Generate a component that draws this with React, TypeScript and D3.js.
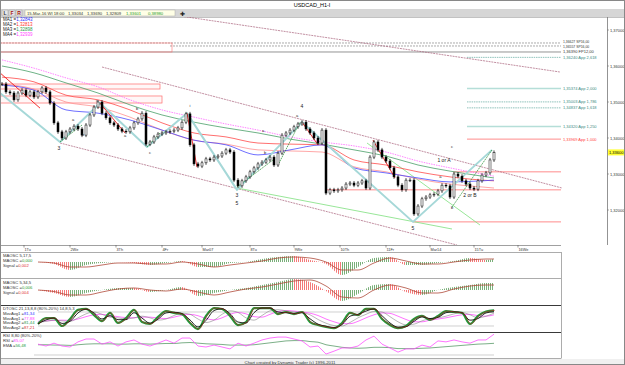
import React, { useEffect, useRef } from 'react';
import * as d3 from 'd3';

// closes, one bar every ~2 hours
const closes = [
  1.3550, 1.3528, 1.3525, 1.3506, 1.3525, 1.3533, 1.3519, 1.3528, 1.3514, 1.3528,
  1.3539, 1.3528, 1.3497, 1.3442, 1.3417, 1.3400, 1.3417, 1.3425, 1.3433, 1.3425,
  1.3408, 1.3436, 1.3464, 1.3486, 1.3500, 1.3469, 1.3456, 1.3442, 1.3436, 1.3425,
  1.3419, 1.3417, 1.3428, 1.3442, 1.3453, 1.3469, 1.3383, 1.3389, 1.3403, 1.3411,
  1.3414, 1.3417, 1.3419, 1.3422, 1.3428, 1.3444, 1.3467, 1.3381, 1.3328, 1.3322,
  1.3331, 1.3342, 1.3339, 1.3347, 1.3350, 1.3358, 1.3367, 1.3361, 1.3283, 1.3267,
  1.3281, 1.3292, 1.3306, 1.3317, 1.3328, 1.3333, 1.3339, 1.3347, 1.3325, 1.3358,
  1.3408, 1.3414, 1.3422, 1.3431, 1.3439, 1.3444, 1.3425, 1.3414, 1.3400, 1.3386,
  1.3422, 1.3247, 1.3256, 1.3253, 1.3256, 1.3261, 1.3272, 1.3275, 1.3269, 1.3275,
  1.3281, 1.3261, 1.3347, 1.3389, 1.3367, 1.3347, 1.3336, 1.3317, 1.3292, 1.3269,
  1.3256, 1.3283, 1.3283, 1.3189, 1.3211, 1.3231, 1.3236, 1.3242, 1.3244, 1.3253,
  1.3269, 1.3267, 1.3236, 1.3300, 1.3294, 1.3281, 1.3272, 1.3261, 1.3258, 1.3281,
  1.3297, 1.3303, 1.3339, 1.3360
];

// moving averages, read at these bars
const maIdx = [0, 8, 16, 24, 32, 40, 48, 56, 64, 72, 80, 88, 96, 104, 112, 120, 123];
const ma1 = [1.3547, 1.3533, 1.3478, 1.3469, 1.3450, 1.3422, 1.3394, 1.3381, 1.3353, 1.3367, 1.3381, 1.3317, 1.3303, 1.3289, 1.3278, 1.3281, 1.3283];
const ma2 = [1.3569, 1.3556, 1.3519, 1.3506, 1.3478, 1.3442, 1.3414, 1.3403, 1.3386, 1.3383, 1.3381, 1.3339, 1.3325, 1.3306, 1.3292, 1.3283, 1.3281];
const ma2b = [1.3550, 1.3536, 1.3500, 1.3486, 1.3458, 1.3422, 1.3394, 1.3383, 1.3367, 1.3364, 1.3361, 1.3320, 1.3306, 1.3286, 1.3272, 1.3264, 1.3261];
const ma3 = [1.3600, 1.3581, 1.3553, 1.3525, 1.3492, 1.3464, 1.3444, 1.3428, 1.3414, 1.3397, 1.3383, 1.3367, 1.3350, 1.3325, 1.3308, 1.3294, 1.3289];
const ma4 = [1.3617, 1.3594, 1.3567, 1.3542, 1.3506, 1.3478, 1.3458, 1.3439, 1.3422, 1.3403, 1.3389, 1.3378, 1.3361, 1.3336, 1.3317, 1.3300, 1.3294];

// MAOSC panels
const oscIdx = [9, 13, 17, 21, 25, 29, 33, 37, 41, 45, 49, 53, 57, 61, 65, 69, 73, 77, 81, 85, 89, 93, 97, 101, 105, 109, 113, 117, 121, 123];
const macd1 = [0, -0.0008, -0.0032, -0.0012, -0.0004, 0, -0.0004, -0.0012, -0.0004, 0.0004, -0.0020, -0.0020, -0.0004, 0, 0.0012, 0.0020, 0.0024, 0.0008, -0.0008, -0.0052, -0.0020, 0.0016, 0.0020, -0.0012, -0.0012, -0.0004, 0.0004, 0.0016, 0.0008, 0.0012];
const signal1 = [0, -0.0004, -0.0020, -0.0020, -0.0012, -0.0004, -0.0004, -0.0008, -0.0008, 0, -0.0008, -0.0020, -0.0012, -0.0004, 0.0004, 0.0016, 0.0020, 0.0016, 0, -0.0032, -0.0032, -0.0004, 0.0016, 0.0004, -0.0008, -0.0008, 0, 0.0008, 0.0012, 0.0012];
const macd2 = [0, -0.0024, -0.0056, -0.0024, 0, 0.0016, 0.0016, -0.0016, 0, 0.0024, -0.0048, -0.0024, 0, 0.0016, 0.0040, 0.0064, 0.0088, 0.0064, -0.0008, -0.0088, -0.0032, 0.0040, 0.0048, -0.0016, -0.0040, 0, 0.0024, 0.0040, 0.0056, 0.0056];
const signal2 = [0, -0.0012, -0.0040, -0.0040, -0.0016, 0.0008, 0.0016, 0, -0.0008, 0.0008, -0.0016, -0.0040, -0.0016, 0.0008, 0.0024, 0.0048, 0.0072, 0.0080, 0.0032, -0.0056, -0.0064, 0, 0.0040, 0.0016, -0.0024, -0.0024, 0.0008, 0.0032, 0.0040, 0.0040];

// DTOSC + RSI panels (every other bar from bar 9)
const stoIdx = d3.range(9, 124, 2);
const stoFast = [29, 54, 54, 20, 50, 89, 93, 67, 41, 76, 33, 54, 89, 37, 29, 59, 84, 76, 71, 33, 7, 63, 97, 93, 63, 24, 37, 97, 97, 97, 71, 80, 71, 80, 37, 24, 16, 11, 33, 76, 67, 93, 93, 50, 24, 11, 20, 50, 63, 46, 63, 84, 80, 76, 29, 63, 82, 87];
const stoSlow = [29, 46, 54, 31, 40, 76, 92, 76, 50, 64, 47, 47, 77, 54, 32, 49, 76, 79, 73, 46, 16, 44, 86, 94, 73, 37, 33, 77, 97, 97, 80, 77, 74, 77, 51, 28, 19, 13, 26, 62, 70, 84, 93, 64, 33, 15, 17, 40, 59, 52, 57, 77, 81, 77, 45, 52, 76, 81];
const stoAvg1 = [35, 40, 45, 42, 40, 55, 72, 80, 70, 58, 55, 50, 55, 62, 55, 45, 50, 65, 75, 70, 50, 35, 45, 70, 85, 78, 55, 45, 65, 85, 90, 85, 80, 78, 68, 48, 32, 22, 20, 35, 55, 70, 82, 80, 60, 38, 25, 28, 42, 52, 55, 62, 72, 78, 68, 55, 62, 75];
const stoAvg2 = [40, 42, 44, 45, 44, 50, 60, 68, 70, 65, 60, 56, 55, 58, 58, 54, 52, 58, 66, 70, 64, 52, 46, 55, 70, 78, 72, 60, 58, 70, 82, 86, 84, 80, 75, 65, 50, 38, 30, 30, 40, 55, 68, 76, 74, 62, 48, 38, 38, 45, 50, 55, 62, 68, 70, 64, 62, 68];
const rsi = [54, 48, 57, 48, 45, 61, 70, 70, 54, 61, 48, 61, 67, 54, 48, 57, 67, 57, 73, 73, 48, 45, 51, 45, 39, 57, 48, 57, 67, 73, 76, 76, 70, 64, 45, 48, 23, 32, 42, 42, 48, 67, 79, 54, 42, 29, 39, 39, 51, 45, 64, 61, 67, 61, 57, 67, 67, 85];
const rsiEma = [52, 52, 51, 51, 50, 52, 54, 55, 55, 55, 54, 54, 55, 55, 54, 55, 56, 56, 58, 59, 57, 55, 54, 53, 51, 51, 51, 52, 55, 58, 61, 64, 65, 65, 62, 60, 52, 48, 44, 42, 41, 42, 44, 44, 43, 40, 40, 40, 41, 42, 44, 46, 48, 50, 52, 54, 55, 56.5];

// axes
const priceTicks = [1.32, 1.33, 1.34, 1.35, 1.36, 1.37];
const dayTicks = [5.5, 17, 28.5, 40, 50, 62, 73, 84.5, 96, 107, 118, 129];
const dayLabels = ['1Tu', '2We', '3Th', '4Fr', 'Mar07', '8Tu', '9We', '10Th', '11Fr', 'Mar14', '15Tu', '16We'];

// horizontal levels on the right
const levelPrices = [1.36639, 1.36556, 1.36389, 1.3624, 1.35374, 1.35003, 1.34837, 1.3432, 1.33969];
const levelLabels = ['1,36627 SP16,00', '1,36557 SP16,00', '1,36390 FP12,00', '1,36240 App 2,618', '1,35374 App 2,000', '1,35003 App 1,786', '1,34837 App 1,618', '1,34320 App 1,250', '1,33969 App 1,000'];
const levelKinds = ['sp', 'sp', 'fp', 'app', 'appPale', 'app', 'app', 'appPale', 'appRed'];
const levelFrom = [-1, 42, -1, 116.25, 116.25, 116.25, 116.25, 116.25, 116.25];

const supportPrices = [1.3306, 1.3256, 1.3167];
const supportFrom = [112.75, 80.75, 102.75];

// drawn lines as [bar, price]
const channelLines = [
  [[42, 1.3743], [139.5, 1.35833]],
  [[25, 1.35972], [140, 1.32611]],
  [[14.5, 1.33861], [113.75, 1.31027]]
];
const greenLines = [
  [[58.75, 1.32611], [112.5, 1.31472]],
  [[91.25, 1.33861], [119.5, 1.31583]]
];
const tealWave = [[-0.5, 1.3525], [14.5, 1.3389], [24.5, 1.3497], [36.25, 1.3375], [46.25, 1.3469], [58.75, 1.3256], [75, 1.3444], [102.75, 1.3167], [122.5, 1.3367]];
const redWaves = [
  [[-0.5, 1.3581], [9.5, 1.3483]],
  [[24.5, 1.3497], [30.75, 1.3414]],
  [[46.25, 1.3469], [48.75, 1.3319]],
  [[75, 1.3444], [79, 1.3381]],
  [[92.75, 1.3394], [98.25, 1.3289]]
];
const darkGreenWaves = [
  [[14.5, 1.3389], [20, 1.3436]],
  [[36.25, 1.3375], [39.5, 1.3414]],
  [[58.75, 1.3264], [67.75, 1.3339]],
  [[69, 1.3325], [74.5, 1.3444]],
  [[112.5, 1.3208], [122.5, 1.3367]]
];
const waveText = ['3', '4', '3', '5', '5', '1 or A', '2 or B', 'a', 'b', 'c', 'a', 'b', 'c', 'i', 'a', 'a', 'b', 'a', 'c', 'b'];
const waveBar = [14.25, 75, 58.75, 58.75, 102.75, 110.5, 117, 17.75, 20.25, 23.75, 30.75, 33.75, 37, 47, 73.75, 65.25, 65.75, 109.6, 112.5, 112.5];
const wavePrice = [1.3367, 1.3483, 1.3236, 1.3214, 1.3144, 1.3333, 1.3236, 1.3447, 1.3406, 1.3500, 1.3403, 1.3478, 1.3356, 1.3486, 1.3458, 1.3417, 1.3356, 1.3288, 1.3372, 1.3203];

const zoneRects = [[[-1, 1.35500], [39.5, 1.35361]], [[-1, 1.35167], [40, 1.34972]]];

const FONT = 'Liberation Sans, Arial, sans-serif';

const App: React.FC = () => {
  const svgRef = useRef<SVGSVGElement>(null);

  useEffect(() => {
    document.body.style.margin = '0';
    if (!svgRef.current) return;
    const svg = d3.select(svgRef.current);
    svg.selectAll('*').remove();

    const x = d3.scaleLinear().domain([0, closes.length - 1]).range([2, 494]);
    const y = d3.scaleLinear().domain([1.32, 1.37]).range([210, 30]);

    const defs = svg.append('defs');
    const clip = (id: string, x0: number, y0: number, w: number, h: number) => {
      defs.append('clipPath').attr('id', id).append('rect')
        .attr('x', x0).attr('y', y0).attr('width', w).attr('height', h);
    };
    clip('pricePanel', 0, 17, 607, 228);
    const hatch = (id: string, color: string) => {
      defs.append('pattern').attr('id', id)
        .attr('width', 2).attr('height', 4).attr('patternUnits', 'userSpaceOnUse')
        .append('line').attr('x1', 0.5).attr('x2', 0.5).attr('y1', 0).attr('y2', 4)
        .attr('stroke', color).attr('stroke-width', 0.9);
    };
    hatch('hatchRed', '#f26a6a');
    hatch('hatchGreen', '#6aa66a');

    svg.append('rect').attr('width', 625).attr('height', 365).attr('fill', '#fff');

    // title + toolbar
    svg.append('text').attr('x', 312).attr('y', 7).attr('text-anchor', 'middle')
      .attr('font-family', FONT).attr('font-size', 5.5).attr('fill', '#000').text('USDCAD_H1-I');
    svg.append('rect').attr('x', 0).attr('y', 9).attr('width', 625).attr('height', 8).attr('fill', '#d6d6d6');
    ['L', 'F', 'R'].forEach((b, i) => {
      svg.append('rect').attr('x', 2 + i * 7).attr('y', 10).attr('width', 6).attr('height', 6)
        .attr('fill', '#e8e8e8').attr('stroke', '#999').attr('stroke-width', 0.5);
      svg.append('text').attr('x', 5 + i * 7).attr('y', 15).attr('text-anchor', 'middle')
        .attr('font-family', FONT).attr('font-size', 5).attr('font-weight', 'bold')
        .attr('fill', i === 0 ? '#333' : '#a01010').text(b);
    });
    svg.append('rect').attr('x', 25).attr('y', 10).attr('width', 150).attr('height', 6)
      .attr('fill', '#ffffe6').attr('stroke', '#aaa').attr('stroke-width', 0.5);
    const info = ['15-Mar-16 WI 18:00', '1,33034', '1,33690', '1,32809', '1,33601', '0,38980'];
    const infoX = [27, 68, 87, 106, 126, 148];
    info.forEach((t, i) => {
      svg.append('text').attr('x', infoX[i]).attr('y', 14.8).attr('font-family', FONT)
        .attr('font-size', 4.2).attr('fill', i >= 4 ? '#2a9a2a' : '#333').text(t);
    });
    svg.append('text').attr('x', 180).attr('y', 15.5).attr('font-family', FONT)
      .attr('font-size', 6).attr('fill', '#222').text('✚');

    // frames
    svg.append('line').attr('x1', 0).attr('x2', 625).attr('y1', 17.5).attr('y2', 17.5).attr('stroke', '#999').attr('stroke-width', 0.6);
    svg.append('line').attr('x1', 607.5).attr('x2', 607.5).attr('y1', 17).attr('y2', 245).attr('stroke', '#777').attr('stroke-width', 0.8);

    const pp = svg.append('g').attr('clip-path', 'url(#pricePanel)');
    const line = d3.line<number[]>().x(d => x(d[0])).y(d => y(d[1]));

    // top SP/FP levels and zones
    const labelShift = [-0.9, 0.9, 0, 0, 0, 0, 0, 0, 0];
    levelPrices.forEach((p, i) => {
      const k = levelKinds[i];
      const x0 = levelFrom[i] < 0 ? 0 : x(levelFrom[i]);
      const col = k === 'appRed' ? '#ff5a5a' : k === 'appPale' ? '#b5ded8' : k === 'app' ? '#5fa89e' : '#888';
      pp.append('line').attr('x1', x0).attr('x2', 561).attr('y1', y(p)).attr('y2', y(p))
        .attr('stroke', col)
        .attr('stroke-width', k === 'appPale' ? 1.6 : k === 'fp' ? 0.9 : 0.7)
        .attr('stroke-dasharray', k === 'app' ? '1.5,0.8' : k === 'sp' ? '2,1' : null);
      svg.append('text').attr('x', 563).attr('y', y(p) + 1.4 + labelShift[i]).attr('font-family', FONT)
        .attr('font-size', k === 'sp' ? 3.4 : 4).attr('fill', k === 'appRed' ? '#ff4040' : k === 'sp' || k === 'fp' ? '#333' : '#3c8c84')
        .text(levelLabels[i]);
    });
    pp.append('rect').attr('x', 0).attr('y', y(levelPrices[0])).attr('width', 172)
      .attr('height', y(levelPrices[2]) - y(levelPrices[0]))
      .attr('fill', 'none').attr('stroke', '#ff7070').attr('stroke-width', 0.6);
    zoneRects.forEach(r => {
      pp.append('rect').attr('x', x(r[0][0])).attr('y', y(r[0][1]))
        .attr('width', x(r[1][0]) - x(r[0][0])).attr('height', y(r[1][1]) - y(r[0][1]))
        .attr('fill', 'rgba(255,200,200,0.15)').attr('stroke', '#ff6b6b').attr('stroke-width', 0.7);
    });
    supportPrices.forEach((p, i) => {
      pp.append('line').attr('x1', x(supportFrom[i])).attr('x2', 561).attr('y1', y(p)).attr('y2', y(p))
        .attr('stroke', '#ff5a5a').attr('stroke-width', 0.7);
    });

    // channels and trend lines
    channelLines.forEach(l => {
      pp.append('path').attr('d', line(l)).attr('fill', 'none')
        .attr('stroke', '#a8607a').attr('stroke-width', 0.7).attr('stroke-dasharray', '2,0.8');
    });
    greenLines.forEach(l => {
      pp.append('path').attr('d', line(l)).attr('fill', 'none').attr('stroke', '#7ee07e').attr('stroke-width', 0.8);
    });

    // moving averages
    const maLine = (vals: number[], color: string, dash?: string) => {
      pp.append('path')
        .attr('d', d3.line<number>().x((_, i) => x(maIdx[i])).y(d => y(d)).curve(d3.curveMonotoneX)(vals))
        .attr('fill', 'none').attr('stroke', color).attr('stroke-width', 0.8)
        .attr('stroke-dasharray', dash || null);
    };
    maLine(ma4, '#ff66ff', '1.5,1');
    maLine(ma3, '#4aa068');
    maLine(ma2b, '#ff9090');
    maLine(ma2, '#ff4a4a');
    maLine(ma1, '#4a4aff');

    // wave lines
    pp.append('path').attr('d', line(tealWave)).attr('fill', 'none')
      .attr('stroke', '#a6d8d8').attr('stroke-width', 2).attr('stroke-linejoin', 'round');
    redWaves.forEach(l => {
      pp.append('path').attr('d', line(l)).attr('fill', 'none').attr('stroke', '#f01818').attr('stroke-width', 0.9);
    });
    darkGreenWaves.forEach(l => {
      pp.append('path').attr('d', line(l)).attr('fill', 'none').attr('stroke', '#1a8a2a')
        .attr('stroke-width', 0.7).attr('stroke-dasharray', '1.5,0.7');
    });

    // candles
    const cg = pp.append('g');
    closes.forEach((c, i) => {
      const o = i === 0 ? c : closes[i - 1];
      const top = y(Math.max(o, c));
      const bot = y(Math.min(o, c));
      const cx = x(i);
      cg.append('line').attr('x1', cx).attr('x2', cx).attr('y1', top - 2).attr('y2', bot + 2)
        .attr('stroke', '#000').attr('stroke-width', 0.7);
      cg.append('rect').attr('x', cx - 1).attr('y', top).attr('width', 2)
        .attr('height', Math.max(bot - top, 0.8))
        .attr('fill', c >= o ? '#fff' : '#000').attr('stroke', '#000').attr('stroke-width', 0.5);
    });

    // wave labels
    waveText.forEach((t, i) => {
      pp.append('text').attr('x', x(waveBar[i])).attr('y', y(wavePrice[i]))
        .attr('text-anchor', 'middle').attr('font-family', FONT)
        .attr('font-size', t.length > 1 || /\d/.test(t) ? 5 : 4).attr('fill', '#222').text(t);
    });

    // MA legend
    const maNames = ['MA1 =', 'MA2 =', 'MA3 =', 'MA4 ='];
    const maVals = ['1,32843', '1,32813', '1,32898', '1,32939'];
    const maCols = ['#3030ff', '#ff3030', '#2a9a4a', '#ff40ff'];
    maNames.forEach((n, i) => {
      const t = svg.append('text').attr('x', 3).attr('y', 21 + i * 5).attr('font-family', FONT).attr('font-size', 4.5);
      t.append('tspan').attr('fill', '#222').text(n);
      t.append('tspan').attr('fill', maCols[i]).text(maVals[i]);
    });

    // price axis
    priceTicks.forEach(p => {
      svg.append('line').attr('x1', 607).attr('x2', 609).attr('y1', y(p)).attr('y2', y(p)).attr('stroke', '#777').attr('stroke-width', 0.6);
      svg.append('text').attr('x', 610).attr('y', y(p) + 1.5).attr('font-family', FONT)
        .attr('font-size', 4).attr('fill', '#333').text(d3.format('.5f')(p).replace('.', ','));
    });
    const last = closes[closes.length - 1];
    svg.append('rect').attr('x', 608).attr('y', y(last) - 3).attr('width', 16).attr('height', 6).attr('fill', '#ffff33');
    svg.append('text').attr('x', 609).attr('y', y(last) + 1.5).attr('font-family', FONT)
      .attr('font-size', 4).attr('fill', '#000').text(d3.format('.5f')(last).replace('.', ','));

    // time axis
    svg.append('line').attr('x1', 0).attr('x2', 561).attr('y1', 245.5).attr('y2', 245.5).attr('stroke', '#777').attr('stroke-width', 0.7);
    dayTicks.forEach((d, i) => {
      svg.append('line').attr('x1', x(d)).attr('x2', x(d)).attr('y1', 245).attr('y2', 247.5).attr('stroke', '#555').attr('stroke-width', 0.6);
      svg.append('text').attr('x', x(d) + 0.5).attr('y', 250.5).attr('font-family', FONT)
        .attr('font-size', 3.8).attr('fill', '#333').text(dayLabels[i]);
    });

    // lower panel frames
    [252, 278, 305, 332, 358].forEach((py, i) => {
      svg.append('line').attr('x1', 0).attr('x2', 561).attr('y1', py + 0.5).attr('y2', py + 0.5)
        .attr('stroke', i === 2 || i === 3 ? '#222' : '#888').attr('stroke-width', i === 2 || i === 3 ? 0.9 : 0.7);
    });
    svg.append('line').attr('x1', 561.5).attr('x2', 561.5).attr('y1', 252).attr('y2', 358.5).attr('stroke', '#888').attr('stroke-width', 0.7);

    // MAOSC panels
    const oscPanel = (vals: number[], sig: number[], yTop: number, yBot: number, lim: number, id: string) => {
      const yo = d3.scaleLinear().domain([-lim, lim]).range([yTop + 20, yTop]);
      clip(id, 0, yTop - 10, 561, yBot - yTop + 12);
      const g = svg.append('g').attr('clip-path', `url(#${id})`);
      const area = d3.area<number>().x((_, i) => x(oscIdx[i])).y0(yo(0)).y1(d => yo(d)).curve(d3.curveMonotoneX);
      ['up', 'down'].forEach(dir => {
        const cid = `${id}-${dir}`;
        const cp = defs.append('clipPath').attr('id', cid);
        vals.forEach((v, i) => {
          if (i === vals.length - 1) return;
          const rising = vals[i + 1] >= v;
          if ((dir === 'up') !== rising) return;
          cp.append('rect').attr('x', x(oscIdx[i])).attr('y', yTop - 10)
            .attr('width', x(oscIdx[i + 1]) - x(oscIdx[i])).attr('height', 40);
        });
        g.append('path').attr('d', area(vals)).attr('clip-path', `url(#${cid})`)
          .attr('fill', dir === 'up' ? 'url(#hatchGreen)' : 'url(#hatchRed)');
      });
      g.append('path')
        .attr('d', d3.line<number>().x((_, i) => x(oscIdx[i])).y(d => yo(d)).curve(d3.curveMonotoneX)(sig))
        .attr('fill', 'none').attr('stroke', '#b04a3a').attr('stroke-width', 0.8);
    };
    oscPanel(macd1, signal1, 252, 278, 0.004, 'osc1');
    oscPanel(macd2, signal2, 280, 305, 0.008, 'osc2');

    const legend = (yBase: number, rows: string[][], cols: string[]) => {
      rows.forEach((r, i) => {
        const t = svg.append('text').attr('x', 3).attr('y', yBase + i * 4.8)
          .attr('font-family', FONT).attr('font-size', 4.2);
        t.append('tspan').attr('fill', '#333').text(r[0]);
        if (r[1]) t.append('tspan').attr('fill', cols[i]).text(r[1]);
      });
    };
    legend(257, [['MAOSC 5,17,5'], ['MAOSC =', '0,000'], ['Signal =', '0,002']], ['', '#2a9a2a', '#e03030']);
    legend(284, [['MAOSC 5,34,5'], ['MAOSC =', '0,006'], ['Signal =', '0,004']], ['', '#2a9a2a', '#e03030']);

    // DTOSC panel
    const ys = d3.scaleLinear().domain([20, 80]).range([326, 312]);
    clip('sto', 0, 305.5, 561, 26.5);
    const sg = svg.append('g').attr('clip-path', 'url(#sto)');
    [20, 80].forEach(v => {
      sg.append('line').attr('x1', x(stoIdx[0])).attr('x2', x(123)).attr('y1', ys(v)).attr('y2', ys(v))
        .attr('stroke', '#bbb').attr('stroke-width', 0.7);
    });
    const sLine = (vals: number[], color: string, w: number, dx = 0) => {
      sg.append('path')
        .attr('d', d3.line<number>().x((_, i) => x(stoIdx[i]) + dx).y(d => ys(d)).curve(d3.curveMonotoneX)(vals))
        .attr('fill', 'none').attr('stroke', color).attr('stroke-width', w);
    };
    sLine(stoAvg2, '#ff50ff', 0.8);
    sLine(stoAvg1, '#888', 0.6);
    sLine(stoFast, '#1e9a3a', 2.2);
    sLine(stoSlow, '#111', 0.9);
    sLine(stoFast, '#c02020', 0.6, 0.8);
    legend(310, [['DTOSC 21,13,8,8 (80%-20%) 14,8,5,3'], ['MovAvg1 =', '81,34'], ['MovAvg1 =', '77,88'], ['MovAvg2 =', '81,44'], ['MovAvg2 =', '87,21']],
      ['', '#3030ff', '#ff40ff', '#2a9a4a', '#e03030']);

    // RSI panel
    const yr = d3.scaleLinear().domain([20, 80]).range([355, 335.8]);
    clip('rsi', 0, 332.5, 561, 25.5);
    const rg = svg.append('g').attr('clip-path', 'url(#rsi)');
    rg.append('line').attr('x1', x(stoIdx[0]) - 4).attr('x2', x(123)).attr('y1', yr(20)).attr('y2', yr(20))
      .attr('stroke', '#bbb').attr('stroke-width', 0.7);
    rg.append('path')
      .attr('d', d3.line<number>().x((_, i) => x(stoIdx[i])).y(d => yr(d)).curve(d3.curveMonotoneX)(rsiEma))
      .attr('fill', 'none').attr('stroke', '#5a9a6a').attr('stroke-width', 0.8);
    rg.append('path')
      .attr('d', d3.line<number>().x((_, i) => x(stoIdx[i])).y(d => yr(d))(rsi))
      .attr('fill', 'none').attr('stroke', '#ff50ff').attr('stroke-width', 0.8);
    legend(337, [['RSI 8,80 (80%-20%)'], ['RSI =', '85,07'], ['EMA =', '56,48']], ['', '#ff40ff', '#2a9a4a']);

    // footer
    svg.append('rect').attr('x', 0).attr('y', 359).attr('width', 625).attr('height', 6).attr('fill', '#f0f0f0');
    svg.append('text').attr('x', 290).attr('y', 363.5).attr('text-anchor', 'middle').attr('font-family', FONT)
      .attr('font-size', 4.3).attr('fill', '#333').text('Chart created by Dynamic Trader (c) 1996-2011');
    svg.append('rect').attr('x', 0.5).attr('y', 0.5).attr('width', 624).attr('height', 364)
      .attr('fill', 'none').attr('stroke', '#888').attr('stroke-width', 1);
  }, []);

  return (
    <div style={{ position: 'absolute', left: 0, top: 0, width: 625, height: 365 }}>
      <svg ref={svgRef} width={625} height={365} style={{ display: 'block' }} />
    </div>
  );
};

export default App;
